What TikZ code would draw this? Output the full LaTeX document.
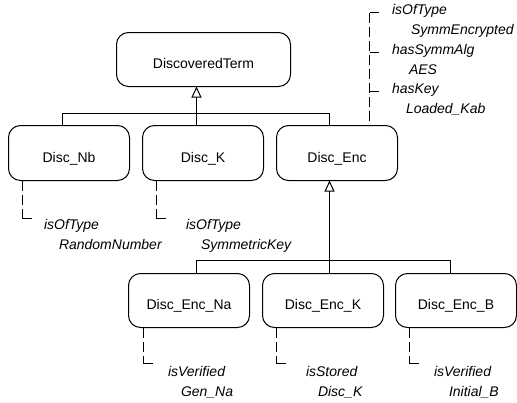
\documentclass[tikz,border=0pt]{standalone}
\usepackage{fontspec}
\setmainfont{Liberation Sans}
\usetikzlibrary{arrows.meta}
\usetikzlibrary{calc}

\begin{document}
\begin{tikzpicture}[x=1pt,y=-1pt,line width=1pt,
    term/.style={draw,rounded corners=12pt,minimum width=121pt,minimum height=55pt,
      outer sep=0pt,text height=18pt,text depth=0pt,font=\fontsize{14}{17}\selectfont},
    isa/.style={-{Triangle[open,length=11pt,width=10pt]}},
    note/.style={dash pattern=on 10pt off 4pt},
    prop/.style={anchor=base west,inner sep=0pt,font=\fontsize{14}{17}\selectfont\itshape}]
    \useasboundingbox (0,0) rectangle (517,402);
    \begin{scope}[shift={(0.5,0.5)}]

    \node[term,minimum width=174pt,minimum height=54pt] (dterm) at (203,59) {DiscoveredTerm};
    \node[term] (nb) at (68.5,152.5) {Disc\_Nb};
    \node[term] (k) at (202.5,152.5) {Disc\_K};
    \node[term] (enc) at (336.5,152.5) {Disc\_Enc};
    \node[term,minimum height=54pt] (encna) at (188.5,300) {Disc\_Enc\_Na};
    \node[term,minimum height=54pt] (enck) at (322.5,300) {Disc\_Enc\_K};
    \node[term,minimum height=54pt] (encb) at (455.5,300) {Disc\_Enc\_B};

    % generalisation
    \coordinate (j1) at (196,113);
    \coordinate (j2) at (329,260);
    \draw[isa] (j1) -- (j1 |- dterm.south);
    \draw ($(nb.north west)+(54,0)$) |- (j1) -| ($(enc.north west)+(53,0)$);
    \draw (j1) -- (j1 |- k.north);
    \draw[isa] (j2) -- (j2 |- enc.south);
    \draw ($(encna.north west)+(68,0)$) |- (j2) -| ($(encb.north west)+(55,0)$);
    \draw (j2) -- (j2 |- enck.north);

    % properties of Disc_Enc
    \coordinate (t1) at (369,12);
    \draw[note] (t1) -- ($(enc.north west)+(93,0)$);
    \draw (t1) -- ++(9,0);
    \draw (369,52) -- (378,52);
    \draw (369,91) -- (378,91);
    \node[prop] (p1) at (391,14) {isOfType};
    \node[prop] (v1) at (410,34) {SymmEncrypted};
    \node[prop] (p2) at (391,54) {hasSymmAlg};
    \node[prop] (v2) at (408,74) {AES};
    \node[prop] (p3) at (391,93) {hasKey};
    \node[prop] (v3) at (405,113) {Loaded\_Kab};

    % properties below the boxes
    \draw[note] ($(nb.south west)+(14,0)$) -- ++(0,38) coordinate (tnb);
    \draw (tnb) -- ++(9,0);
    \node[prop] (pnb) at (43,229) {isOfType};
    \node[prop] (vnb) at (58,249) {RandomNumber};

    \draw[note] ($(k.south west)+(14,0)$) -- ++(0,38) coordinate (tk);
    \draw (tk) -- ++(9,0);
    \node[prop] (pk) at (185,229) {isOfType};
    \node[prop] (vk) at (200,249) {SymmetricKey};

    \draw[note] ($(encna.south west)+(15,0)$) -- ++(0,36) coordinate (tna);
    \draw (tna) -- ++(9,0);
    \node[prop] (pna) at (167,376) {isVerified};
    \node[prop] (vna) at (180,395.5) {Gen\_Na};

    \draw[note] ($(enck.south west)+(14,0)$) -- ++(0,36) coordinate (tek);
    \draw (tek) -- ++(9,0);
    \node[prop] (pek) at (305,376) {isStored};
    \node[prop] (vek) at (317,395.5) {Disc\_K};

    \draw[note] ($(encb.south west)+(14,0)$) -- ++(0,36) coordinate (teb);
    \draw (teb) -- ++(9,0);
    \node[prop] (peb) at (433,376) {isVerified};
    \node[prop] (veb) at (448,395.5) {Initial\_B};
    \end{scope}
\end{tikzpicture}
\end{document}
